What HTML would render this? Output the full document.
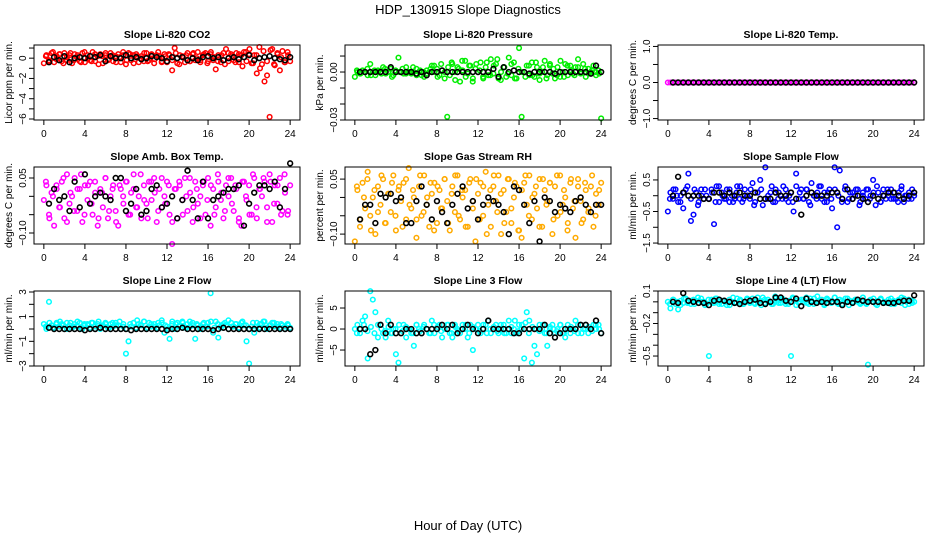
<!DOCTYPE html>
<html><head><meta charset="utf-8"><style>
body{margin:0;background:#fff;}
svg text{font-family:"Liberation Sans",sans-serif;}
</style></head><body>
<svg id="chart" width="936" height="540" viewBox="0 0 936 540" xmlns="http://www.w3.org/2000/svg">
<text x="468" y="14" text-anchor="middle" font-size="13">HDP_130915  Slope Diagnostics</text>
<text x="468" y="530" text-anchor="middle" font-size="13">Hour of Day (UTC)</text>
</svg>
<script>
const xTicks = [0,4,8,12,16,20,24];
const co2Color = [-0.5,0.3,-0.2,0.5,-0.4,0.2,0.4,-0.3,0.5,-0.2,0.3,-0.5,0.4,0.1,-0.3,0.5,-0.4,0.3,-0.2,0.6,-0.3,0.2,0.4,-0.5,0.3,-0.2,0.5,-0.3,0.2,0.4,-0.4,0.3,-0.6,0.5,-0.2,0.3,0.4,-0.4,0.2,-0.3,0.5,-0.2,0.4,-0.5,0.3,0.2,-0.3,0.4,-0.4,0.3,-1.2,1.0,-0.5,0.3,0.2,-0.4,0.5,-0.3,0.4,-0.2,0.6,-0.4,0.3,0.5,-0.3,0.4,-0.2,-1.1,0.3,-0.4,0.5,0.9,-0.3,0.4,-0.2,0.5,-0.4,0.3,0.6,-0.3,0.4,-0.5,0.3,-1.5,1.1,-0.6,-2.3,-1.7,-5.8,0.9,-0.7,0.5,-1.2,0.7,-0.4,0.6,-0.3];
const co2Color2 = [0.2,-0.3,0.6,-0.1,0.4,-0.5,0.1,0.5,-0.2,0.3,-0.4,0.6,0,-0.3,0.4,-0.6,0.2,0.5,-0.1,0.3,-0.4,0.1,0.6,-0.2,0.4,-0.5,0.2,0,0.5,-0.3,0.3,-0.1,0.6,-0.4,0.2,0.4,-0.2,0.5,-0.6,0.1,0.3,-0.3,0.5,0,-0.2,0.4,-0.5,0.6,0.1,-0.3,0.3,-0.6,0.5,0.2,-0.4,0.4,-0.8,0.6,0.9,-0.5,0.3,-1.0,0.7,-0.3,0.8,-0.6,0.4,0.1,-0.4,0.3];
const co2Black = [-0.4,0.1,-0.2,0.2,-0.4,0,0.1,0,0.2,0.1,0.3,-0.3,0.2,0,0,0.3,0,0.1,-0.1,0,0.2,0.1,0,-0.3,0.1,0,0.1,-0.2,0,-0.2,0.1,0.2,0,0.1,-0.2,0,0.1,-0.1,0.1,0.3,-0.2,0,0.1,0.2,0,-0.1,-0.2,0.1];
const presColor = [-0.003,0,-0.001,0.001,0,-0.002,0.005,0,-0.002,0.001,0,0.003,-0.001,0,0.002,-0.002,0,0.009,0,-0.001,0.003,0,-0.001,0,0.002,0,-0.002,-0.003,0.001,0,0.004,0,0.002,-0.002,0.001,0,-0.028,-0.002,0.005,0,0.003,-0.006,0.001,0.007,-0.001,0.004,-0.004,0.002,0,0.006,-0.003,0.003,-0.002,0.008,-0.001,0.005,-0.004,0,0.003,-0.003,0.009,-0.002,0.006,-0.004,0.015,-0.028,0,0.004,-0.002,0.006,-0.003,0.003,-0.005,0,0.007,-0.002,0.004,-0.001,-0.004,0.003,-0.003,0,0.005,-0.002,0.004,-0.001,0.003,0.008,-0.001,0.005,-0.003,0.002,0,0.004,-0.002,0.001,-0.029];
const presColor2 = [0.001,-0.001,0,0.002,-0.002,0.001,0,-0.001,0.002,0,-0.003,0.001,0,0.002,-0.001,0,0.003,-0.002,0.001,0,-0.001,0.002,0.004,-0.003,0.005,-0.004,0.003,0.006,-0.005,0.002,0.007,-0.003,0.004,-0.006,0.005,0.001,-0.004,0.006,-0.002,0.004,0.008,-0.005,0.003,-0.001,0.005,-0.004,0.002,0,-0.003,0.004,-0.002,0.006,-0.001,0.003,-0.004,0.005,0.002,-0.002,0.007,-0.003,0.004,0.001,-0.002,0.003,0,0.002,-0.001,0.001,0,-0.001];
const presBlack = [0,0,0,0,0,0,0.003,0,0,0,0,-0.001,0,-0.002,0,0,0.001,0,0,0,0,0,0,0,0,0,0.002,-0.003,0.003,0,0.001,0,0,-0.001,0,0,0,0,-0.001,0,0,0,0,0,0,-0.001,0.004,0];
const tempColor = [0,0,0,0,0,0,0,0,0,0,0,0,0,0,0,0,0,0,0,0,0,0,0,0,0,0,0,0,0,0,0,0,0,0,0,0,0,0,0,0,0,0,0,0,0,0,0,0,0,0,0,0,0,0,0,0,0,0,0,0,0,0,0,0,0,0,0,0,0,0,0,0,0,0,0,0,0,0,0,0,0,0,0,0,0,0,0,0,0,0,0,0,0,0,0,0,0];
const tempColor2 = [];
const tempBlack = [0,0,0,0,0,0,0,0,0,0,0,0,0,0,0,0,0,0,0,0,0,0,0,0,0,0,0,0,0,0,0,0,0,0,0,0,0,0,0,0,0,0,0,0,0,0,0,0];
const ambColor = [-0.01,0.03,-0.05,0.01,-0.08,0.02,-0.03,0.04,-0.06,0.06,-0.02,0,0.05,-0.04,0.02,-0.07,0.03,-0.01,0.04,-0.05,0.01,-0.08,0.02,-0.03,0.05,-0.06,0,0.03,-0.04,-0.08,0.02,-0.02,0.04,-0.05,0.01,0.06,-0.03,0,-0.06,0.03,-0.02,0.04,-0.01,0.05,-0.07,0.02,-0.03,0,0.04,-0.05,-0.13,0.02,-0.06,0.03,-0.01,0.05,-0.04,0.01,-0.07,0.04,-0.02,0,0.03,-0.05,0.05,-0.08,0.02,-0.03,0.04,-0.01,-0.06,0.03,0,0.05,-0.04,0.02,-0.07,-0.08,0.04,-0.01,0.03,-0.05,0.05,-0.06,0.02,0,0.04,-0.03,0.06,-0.07,0.03,-0.02,0.05,-0.04,0.01,-0.05,0.03];
const ambColor2 = [0.04,-0.06,0,0.03,-0.03,0.05,-0.07,0.01,-0.04,0.02,0.06,-0.05,0.03,-0.02,0.04,-0.06,0.01,0.05,-0.04,0.02,-0.07,0.03,0,0.04,-0.05,0.02,-0.03,0.06,-0.01,-0.06,0.04,0.01,-0.04,0.05,-0.02,0.03,-0.07,0.02,0.04,-0.05,0,0.05,-0.03,0.02,-0.06,0.04,-0.01,0.03,-0.05,0.06,0.01,-0.04,0.05,-0.02,0.03,-0.06,0.04,0,-0.05,0.06,-0.03,0.02,0.05,-0.07,0.04,-0.02,0.03,-0.05,0.06,-0.04];
const ambBlack = [-0.02,0.02,-0.01,0,-0.04,0.04,-0.03,0.06,-0.02,0,0.01,0,-0.01,0.05,0.05,-0.04,-0.02,0.02,-0.05,-0.04,0.02,0.03,-0.03,-0.02,0,-0.06,-0.01,0.07,-0.01,-0.06,0.04,-0.06,-0.01,0,0.01,0.02,0.02,0.03,-0.08,-0.02,0.01,0.03,0.03,0.02,0.04,-0.03,0.02,0.09];
const rhColor = [-0.12,0.02,-0.08,0.04,-0.03,0.07,-0.05,0,-0.1,0.03,-0.02,0.05,-0.07,0.01,-0.04,0.06,-0.09,0.02,-0.01,0.04,-0.06,0.08,-0.03,0,-0.11,0.03,-0.05,0.06,-0.02,-0.08,0.01,0.04,-0.07,0.02,-0.03,0.05,-0.01,-0.09,0.03,-0.04,0.06,-0.06,0,0.02,-0.08,0.05,-0.03,-0.12,0.01,0.04,-0.05,0.07,-0.02,-0.08,0.03,-0.01,0.06,-0.1,0.02,-0.04,0.05,-0.07,0,0.03,-0.09,-0.11,0.04,-0.02,0.06,-0.06,0.01,-0.03,0.05,-0.08,0.02,-0.01,0.04,-0.1,0.03,-0.05,0.06,-0.02,0,-0.07,0.04,-0.03,-0.11,0.05,-0.01,-0.06,0.02,-0.04,0.03,-0.08,0.01,-0.02,0.04];
const rhColor2 = [0.03,-0.06,0,0.05,-0.09,0.02,-0.04,0.06,-0.07,0.01,0.04,-0.05,0.03,-0.08,0.05,-0.02,0.02,-0.06,0.06,-0.04,0,0.04,-0.09,0.03,-0.03,0.05,-0.07,0.01,0.06,-0.05,0.02,-0.08,0.04,-0.01,0.05,-0.06,0.03,-0.1,0.02,0.06,-0.04,0.01,-0.07,0.05,-0.03,0.04,-0.09,0.02,0.06,-0.05,0,0.03,-0.08,0.05,-0.02,0.04,-0.06,0.06,-0.04,0.02,-0.09,0.05,-0.01,0.03,-0.07,0.04,-0.03,0.06,-0.05,0.02];
const rhBlack = [-0.06,-0.02,-0.02,-0.07,0.01,0,0.01,-0.01,0,-0.07,-0.07,-0.01,0.03,-0.02,-0.06,-0.01,-0.04,-0.07,-0.02,0.01,0.03,-0.03,-0.01,-0.06,-0.02,0,-0.01,-0.02,-0.04,-0.1,0.03,0.02,-0.02,-0.07,-0.01,-0.12,0,-0.01,-0.04,-0.02,-0.03,-0.04,-0.01,0,-0.02,-0.04,-0.02,-0.02];
const flowColor = [-0.5,0.1,-0.1,0.2,-0.2,0,-0.4,0.2,0.7,-0.8,-0.6,0.1,-0.2,0.2,-0.1,0,-0.1,0.2,-0.9,0.3,-0.2,0.1,-0.1,0.2,-0.2,0,-0.1,0.3,-0.1,-0.2,0.2,0,-0.1,0.4,-0.2,0.1,0.5,-0.3,0.9,-0.1,0.1,-0.2,0.2,-0.1,0,0.3,-0.1,-0.2,0.1,-0.5,0.7,-0.1,0.2,-0.1,0.2,-0.2,0.4,0,-0.1,0.3,-0.1,0.1,-0.2,0.2,-0.4,0.9,-1.0,0.8,-0.1,0.2,-0.2,0.1,-0.1,0,0.2,-0.2,0.1,-0.1,0.2,0,0.5,-0.3,0.1,-0.2,0.2,-0.1,0,0.2,-0.1,-0.1,0.1,0.2,-0.2,0,0.1,-0.1,0];
const flowColor2 = [-0.1,0.2,0,-0.2,0.1,0.3,-0.1,0.2,-0.3,0,0.2,-0.1,0.1,-0.2,0.3,0,-0.1,0.2,-0.2,0.1,0.3,-0.1,0,0.2,-0.3,0.1,0.2,-0.1,0,0.3,-0.2,0.1,-0.1,0.2,0,-0.2,0.3,0.1,-0.1,0.2,-0.3,0,0.1,0.3,-0.2,0.1,-0.1,0.2,0,-0.2,0.3,-0.1,0.1,0.2,-0.3,0,0.2,-0.1,0.1,0.3,-0.2,0,0.2,-0.1,0.1,-0.2,0.3,0,-0.1,0.2];
const flowBlack = [0,0.6,0.1,0,0,0,-0.1,-0.1,0.1,0.1,0,0.1,0,0.1,0,0,0.1,-0.1,-0.1,-0.1,0.1,0,0,0.1,-0.1,-0.6,0,0.1,0,0,0,0.1,0.1,-0.1,0.2,-0.1,0,-0.1,-0.2,0,-0.1,0,0.1,0.1,0,-0.1,0,0.1];
const line2Color = [0.4,0,2.2,0.3,0.1,0.5,0.2,0.4,0,0.5,0.3,0.1,0.4,0.2,0.5,0,0.3,0.4,0.1,0.5,0.2,0.4,0,0.3,0.5,0.1,0.4,0.2,0.5,0.3,0,0.4,-2.0,-1.0,0.2,0.5,0.1,0.4,0.3,0.6,0,0.5,0.2,0.4,0.1,0.3,0.5,-0.3,0.2,-0.8,0.4,0,0.5,0.3,0.6,0.1,0.4,0.2,0.5,-0.8,0.3,0,0.4,0.2,0.5,2.9,-0.3,0.6,-0.7,0.1,0.4,0.3,0,0.5,0.2,0.4,0.1,0.5,0.3,-1.0,-2.8,0.2,-0.3,0.5,0.1,0.4,0.6,0,0.3,0.5,0.2,0.4,0.1,0.3,0.2,0.4,0.1];
const line2Color2 = [0.2,0.5,0.1,0.4,0.6,0.3,0,0.5,0.2,0.6,0.1,0.4,0.3,0.5,0,0.6,0.2,0.4,0.1,0.5,0.3,0.6,0.2,0,0.4,0.5,0.7,0.3,0.6,0.1,0.4,0.2,0.5,0.7,0.3,0,0.6,0.4,0.2,0.5,0.1,0.6,0.3,0.4,0,0.5,0.2,0.6,0.1,0.4,0.3,0.5,0.7,0.2,0.4,0.1,0.6,0.3,0,0.5,0.2,0.4,0.6,0.1,0.3,0.5,0.2,0.4,0,0.3];
const line2Black = [0.1,0,0,0,0,0,0,-0.1,0,0,0.1,0,0,0,0,0,-0.1,0,0,0,0,0,0,-0.1,0,0,0.1,0,0,0,0,0,-0.1,0,0.1,0,0,0,0,0,0,0,0,0,0,0,0,0];
const line3Color = [0,1,-1,2,3,-7,9,7,4,-2,1,-1,-2,2,-1,0,-6,-8,-1,1,-2,0,-1,-4,1,0,-1,1,0,-1,2,-1,0,1,-2,0,1,-1,-2,1,0,-1,1,0,-2,1,-5,0,1,-1,0,1,2,-1,0,1,-1,0,1,-1,2,-1,0,-1,1,0,-7,4,2,-8,-4,-6,1,0,-1,-4,0,1,-1,0,1,-1,-2,1,-1,0,2,-1,1,0,1,-1,0,1,0,1,-1];
const line3Color2 = [-1,0,1,-0.5,0.5,-1,1,0,-0.5,0.5,-1,0,1,-0.5,0.5,0,-1,1,-0.5,0.5,0,-1,1,0.5,-0.5,0,1,-1,0.5,-0.5,0,1,-1,0.5,0,-0.5,1,-1,0,0.5,-0.5,1,-1,0,0.5,2,-0.5,1,1.5,-1,0.5,0,-0.5,1,-1,0.5,0,-0.5,1,-1,0,0.5,-0.5,1,-1,0,0.5,-0.5,1,0];
const line3Black = [0,0,-6,-5,1,-1,1,-1,-1,0,0,-1,-1,0,0,0,1,0,1,-1,0,1,0,-1,0,2,0,0,0,0,-1,-1,0,0,0,0,1,-1,-2,-1,0,0,0,1,1,0,2,-1];
const line4Color = [0,-0.06,0.02,-0.02,-0.07,0.01,-0.01,0.03,0,-0.02,0.02,0.01,-0.01,0.03,0,-0.02,-0.5,0.02,-0.01,0.03,0,-0.02,0.01,-0.03,0.02,0,-0.01,0.03,0.01,-0.02,0,0.02,-0.01,0.03,-0.02,0,0.01,0.04,-0.01,0.02,0,-0.02,0.03,0.01,-0.01,0.02,0,-0.02,-0.5,0.03,0.01,-0.01,0.02,0,0.04,-0.02,0.01,0.03,-0.01,0,0.02,-0.02,0.03,0.01,0,0.04,-0.01,0.02,-0.02,0,0.03,0.01,-0.01,0.02,0,-0.02,0.04,-0.01,-0.58,0.02,0,-0.02,0.01,0.03,-0.01,0,0.02,-0.02,0.01,0,0.02,-0.01,0.03,0,-0.02,0.01,0];
const line4Color2 = [-0.02,0.02,0,-0.03,0.03,-0.01,0.01,-0.02,0.04,0,-0.03,0.02,-0.01,0.03,-0.02,0.01,0,-0.03,0.04,-0.01,0.02,-0.02,0.03,0,-0.01,0.04,-0.03,0.02,0,-0.02,0.05,-0.01,0.03,-0.02,0.01,0.04,-0.03,0,0.02,-0.01,0.03,-0.02,0.05,0,-0.03,0.02,-0.01,0.04,-0.02,0.01,0.03,-0.03,0,0.02,-0.01,0.04,-0.02,0.01,0.03,-0.03,0.02,0,-0.01,0.03,-0.02,0.01,0.04,-0.03,0.02,-0.01];
const line4Black = [0,-0.01,0.08,0.01,0,-0.01,-0.01,-0.03,0.01,0.02,0.01,0,-0.01,-0.02,0,0.01,0.02,-0.01,-0.02,0,0.04,0.04,0.01,0,0.03,-0.04,0.03,0,-0.01,0,-0.01,0,0,-0.03,0,-0.01,0.02,0.01,0,0,0,-0.01,-0.01,-0.01,0,0.01,0.01,0.06];

const panels = [
 {name:'co2',title:'Slope Li-820 CO2',ylab:'Licor ppm per min.',col:0,row:0,dom:[-6.1,1.3],ticks:[1,0,-1,-2,-3,-4,-5,-6],labels:[[0,'0'],[-2,'−2'],[-4,'−4'],[-6,'−6']],color:'#ff0000',c:co2Color,c2:co2Color2,b:co2Black},
 {name:'pressure',title:'Slope Li-820 Pressure',ylab:'kPa per min.',col:1,row:0,dom:[-0.030,0.0169],ticks:[0.01,0,-0.01,-0.02,-0.03],labels:[[0,'0.00'],[-0.03,'−0.03']],color:'#00ee00',c:presColor,c2:presColor2,b:presBlack},
 {name:'temp',title:'Slope Li-820 Temp.',ylab:'degrees C per min.',col:2,row:0,dom:[-1.04,1.04],ticks:[1,0.5,0,-0.5,-1],labels:[[1,'1.0'],[0,'0.0'],[-1,'−1.0']],color:'#ff00ff',c:tempColor,c2:tempColor2,b:tempBlack},
 {name:'amb-temp',title:'Slope Amb. Box Temp.',ylab:'degrees C per min.',col:0,row:1,dom:[-0.130,0.080],ticks:[0.05,0,-0.05,-0.1],labels:[[0.05,'0.05'],[-0.1,'−0.10']],color:'#ff00ff',c:ambColor,c2:ambColor2,b:ambBlack},
 {name:'rh',title:'Slope Gas Stream RH',ylab:'percent per min.',col:1,row:1,dom:[-0.127,0.083],ticks:[0.05,0,-0.05,-0.1],labels:[[0.05,'0.05'],[-0.1,'−0.10']],color:'#ffaa00',c:rhColor,c2:rhColor2,b:rhBlack},
 {name:'sample-flow',title:'Slope Sample Flow',ylab:'ml/min per min.',col:2,row:1,dom:[-1.53,0.91],ticks:[0.5,0,-0.5,-1,-1.5],labels:[[0.5,'0.5'],[-0.5,'−0.5'],[-1.5,'−1.5']],color:'#0000ff',c:flowColor,c2:flowColor2,b:flowBlack},
 {name:'line2',title:'Slope Line 2 Flow',ylab:'ml/min per min.',col:0,row:2,dom:[-3,3.08],ticks:[3,2,1,0,-1,-2,-3],labels:[[3,'3'],[1,'1'],[-1,'−1'],[-3,'−3']],color:'#00ffff',c:line2Color,c2:line2Color2,b:line2Black},
 {name:'line3',title:'Slope Line 3 Flow',ylab:'ml/min per min.',col:1,row:2,dom:[-8.8,9.05],ticks:[5,0,-5],labels:[[5,'5'],[0,'0'],[-5,'−5']],color:'#00ffff',c:line3Color,c2:line3Color2,b:line3Black},
 {name:'line4',title:'Slope Line 4 (LT) Flow',ylab:'ml/min per min.',col:2,row:2,dom:[-0.592,0.1],ticks:[0.1,0,-0.1,-0.2,-0.3,-0.4,-0.5],labels:[[0.1,'0.1'],[-0.2,'−0.2'],[-0.5,'−0.5']],color:'#00ffff',c:line4Color,c2:line4Color2,b:line4Black}
];
const colX=[[34,300],[345,611],[658,924]];
const rowY=[[45,120],[167,244],[291,366]];
const svg=document.getElementById('chart');
const NS='http://www.w3.org/2000/svg';
function mk(tag,attrs,parent){const e=document.createElementNS(NS,tag);for(const k in attrs)e.setAttribute(k,attrs[k]);(parent||svg).appendChild(e);return e;}
panels.forEach(p=>{
  const [x0,x1]=colX[p.col],[y0,y1]=rowY[p.row];
  const xs=h=>x0+(h+0.96)/25.92*(x1-x0);
  const ys=v=>y0+(p.dom[1]-v)/(p.dom[1]-p.dom[0])*(y1-y0);
  const g=mk('g',{});
  
  
  const t=mk('text',{x:(x0+x1)/2,y:y0-7,'text-anchor':'middle','font-size':10.5,'font-weight':'bold'},g);
  t.textContent=p.title;
  
  
  const yl=mk('text',{transform:`translate(${x0-22},${(y0+y1)/2}) rotate(-90)`,'text-anchor':'middle','font-size':10},g);
  yl.textContent=p.ylab;
  
  
  const pts=mk('g',{},g);
  
  
  const n=p.c.length;
  p.c.forEach((v,i)=>{
    const c=mk('circle',{cx:xs(i*24/(n-1)),cy:ys(v),r:2.3,fill:'none',stroke:p.color,'stroke-width':1.5},pts);
    
    
  });
  const n2=p.c2.length;
  p.c2.forEach((v,i)=>{
    const c=mk('circle',{cx:xs(0.2+i*23.6/(n2-1)),cy:ys(v),r:2.3,fill:'none',stroke:p.color,'stroke-width':1.5},pts);
    
    
  });
  p.b.forEach((v,i)=>{
    const c=mk('circle',{cx:xs(0.5*(i+1)),cy:ys(v),r:2.4,fill:'none',stroke:'#000','stroke-width':1.6},pts);
    
    
  });
  const box=mk('rect',{x:x0,y:y0,width:x1-x0,height:y1-y0,fill:'none',stroke:'#000','stroke-width':1},g);
  
  
  mk('line',{x1:xs(0),x2:xs(24),y1:y1,y2:y1,stroke:'#000'},g);
  xTicks.forEach(h=>{
    mk('line',{x1:xs(h),x2:xs(h),y1:y1,y2:y1+5,stroke:'#000'},g);
    const tl=mk('text',{x:xs(h),y:y1+17,'text-anchor':'middle','font-size':10},g);
    tl.textContent=h;
    
    
  });
  p.ticks.forEach(v=>{mk('line',{x1:x0-5,x2:x0,y1:ys(v),y2:ys(v),stroke:'#000'},g);});
  p.labels.forEach(([v,s])=>{
    const tl=mk('text',{transform:`translate(${x0-8},${ys(v)}) rotate(-90)`,'text-anchor':'middle','font-size':10},g);
    tl.textContent=s;
    
    
  });
});
</script>
</body></html>
